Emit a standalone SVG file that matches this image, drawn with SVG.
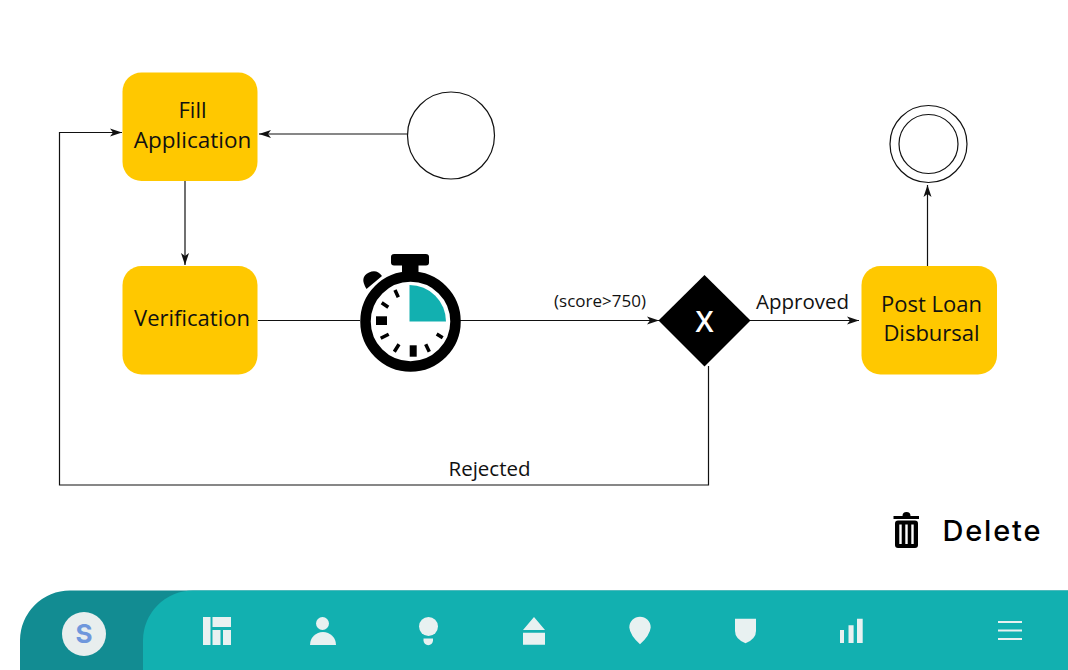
<svg xmlns="http://www.w3.org/2000/svg" width="1068" height="670" viewBox="0 0 1068 670">
<style>
.task{fill:#ffc800}
.lbl{font-family:"Open Sans","Noto Sans","Liberation Sans",sans-serif;font-size:22px;fill:#111;text-anchor:middle}
.ln{fill:none;stroke:#111;stroke-width:1.2}
.ic{fill:#e8f1f1}
.tick{stroke:#000;stroke-width:3.500}
</style>
<defs>
<marker id="arr" markerUnits="userSpaceOnUse" markerWidth="13" markerHeight="10" refX="12" refY="5" orient="auto"><path d="M0 1 L12 5 L0 9 L3 5Z" fill="#111"/></marker>
</defs>
<rect width="1068" height="670" fill="#fff"/>
<g id="connectors">
<path class="ln" d="M407 134H259" marker-end="url(#arr)"/>
<path class="ln" d="M185 181V265" marker-end="url(#arr)"/>
<path class="ln" d="M258 320.500H360"/>
<path class="ln" d="M460 320.500H659" marker-end="url(#arr)"/>
<path class="ln" d="M750 320.500H859" marker-end="url(#arr)"/>
<path class="ln" d="M927.500 266V185" marker-end="url(#arr)"/>
<path class="ln" d="M708.500 366V485H59.500V132.500H122" marker-end="url(#arr)"/>
<text x="600" y="307" font-family="'Open Sans','Noto Sans',sans-serif" font-size="17" fill="#111" text-anchor="middle">(score&gt;750)</text>
<text x="802.500" y="309" class="lbl" style="font-size:20.500px">Approved</text>
<text x="489.500" y="476" class="lbl" style="font-size:20.500px">Rejected</text>
</g>
<g id="fill-application">
<rect class="task" x="122.500" y="72.500" width="135" height="108.500" rx="19"/>
<text class="lbl" x="192.500" y="118">Fill</text>
<text class="lbl" x="192.500" y="148" style="font-size:22.500px">Application</text>
</g>
<g id="verification">
<rect class="task" x="122.500" y="266" width="135" height="108.500" rx="19"/>
<text class="lbl" x="192" y="326">Verification</text>
</g>
<g id="post-loan">
<rect class="task" x="861.500" y="266" width="135.500" height="108.500" rx="19"/>
<text class="lbl" x="931.500" y="312">Post Loan</text>
<text class="lbl" x="931.500" y="341">Disbursal</text>
</g>
<g id="start"><circle cx="451" cy="135.500" r="43.500" fill="#fff" stroke="#111" stroke-width="1.200"/></g>
<g id="end">
<circle cx="928.500" cy="144" r="38.500" fill="#fff" stroke="#111" stroke-width="1.200"/>
<circle cx="928.500" cy="144" r="29.500" fill="#fff" stroke="#111" stroke-width="1.200"/>
</g>
<g id="gateway">
<path d="M704.500 275L750.500 320.500L704.500 366.500L658.500 320.500Z" fill="#000"/>
<text x="704.500" y="332" font-family="'Open Sans','Noto Sans',sans-serif" font-size="29" font-weight="600" fill="#fff" text-anchor="middle">X</text>
</g>
<g id="timer">
<rect x="391" y="254" width="38" height="11.500" rx="3" fill="#000"/>
<rect x="402" y="264" width="16.500" height="12" fill="#000"/>
<path d="M366.500 289Q359 277 369 272.500Q377 269 382 276Z" fill="#000"/>
<circle cx="410.500" cy="321.500" r="45" fill="#fff" stroke="#000" stroke-width="10.500"/>
<path d="M409.500 285A36.500 36.500 0 0 1 446 321.500H409.500Z" fill="#12b0b0"/>
<rect x="376" y="316.300" width="11" height="8.700" fill="#000"/>
<rect x="409.700" y="345.300" width="7" height="11.400" fill="#000"/>
<path class="tick" d="M395 290L398.300 297.300M381.700 302.700L388.300 307.300M380.700 338.300L388.700 334.300M394.300 351.700L399 344.300M429.300 351.700L425.700 344.300M442.700 337.700L436.700 334"/>
</g>
<g id="delete">
<path d="M893.500 517.500H919" stroke="#000" stroke-width="3" fill="none"/>
<path d="M902.500 516Q902.500 512 906.500 512Q910.500 512 910.500 516Z" fill="#000"/>
<rect x="895" y="520.500" width="23" height="27.500" rx="3" fill="#000"/>
<path d="M900.500 524.500V544M906.500 524.500V544M912.500 524.500V544" stroke="#fff" stroke-width="2.400"/>
<text x="942.500" y="541" font-family="Inter,'Noto Sans',sans-serif" font-size="29" font-weight="500" fill="#000" letter-spacing="1.800">Delete</text>
</g>
<g id="navbar">
<path d="M20 670V640A50 50 0 0 1 70 590.500H1068V670Z" fill="#128c92"/>
<path d="M143 670V640A50 50 0 0 1 193 590.500H1068V670Z" fill="#12b0b0"/>
<circle cx="84" cy="634" r="22" fill="#e8eeee"/>
<text x="84" y="642.500" font-family="Inter,'Noto Sans',sans-serif" font-size="26" font-weight="700" fill="#6f97dc" text-anchor="middle">S</text>
<path class="ic" d="M203 617H210.500V645H203ZM212.500 617H231V627H212.500ZM212.500 630H220.500V645H212.500ZM223 630H231V645H223Z"/>
<circle class="ic" cx="322.500" cy="623.500" r="6.500"/>
<path class="ic" d="M310 645A13 13 0 0 1 336 645Z"/>
<circle class="ic" cx="428.500" cy="626.500" r="9.500"/>
<path class="ic" d="M423.500 638.500H433V640.500A4.750 4.750 0 0 1 423.500 640.500Z"/>
<path class="ic" d="M534 617L545 630H523ZM523 632.700H545V644.700H523Z"/>
<path class="ic" d="M640 616.700A10.700 10.700 0 0 1 650.700 627.400Q650 635 640 644.300Q630 635 629.300 627.400A10.700 10.700 0 0 1 640 616.700Z"/>
<path class="ic" d="M735 618.700H756V631Q756 639 745.500 643.300Q735 639 735 631Z"/>
<path class="ic" d="M840 630H844V643H840ZM848.500 625.300H853.600V643H848.500ZM857 618.700H862.700V643H857Z"/>
<path d="M998 622H1022M998 630.500H1022M998 639H1022" stroke="#e8f1f1" stroke-width="1.800" fill="none"/>
</g>
</svg>
